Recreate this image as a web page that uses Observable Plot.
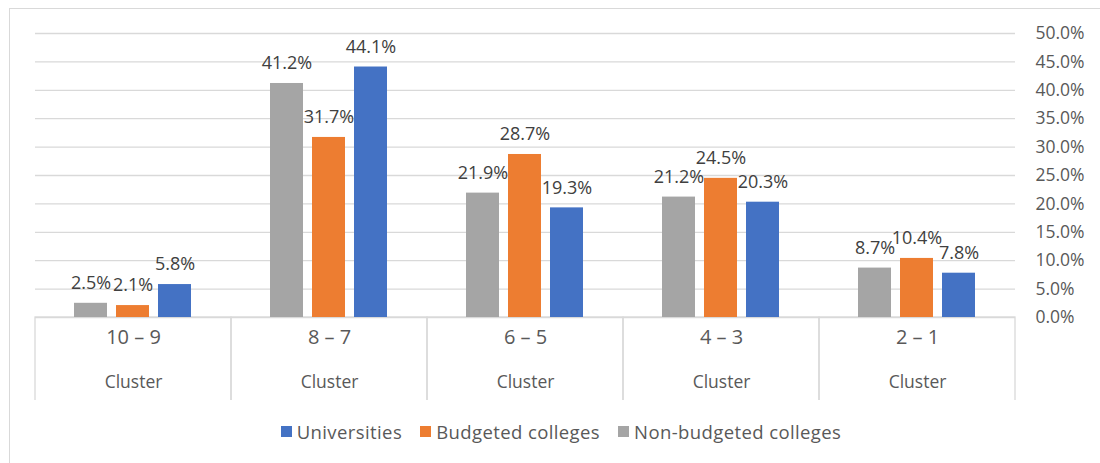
<!DOCTYPE html>
<html><head><meta charset="utf-8">
<script src="https://cdn.jsdelivr.net/npm/d3@7"></script>
<script src="https://cdn.jsdelivr.net/npm/@observablehq/plot@0.6"></script>
<style>
html,body{margin:0;padding:0;background:#fff;overflow:hidden;width:1100px;height:463px;font-family:"Open Sans",sans-serif}
#chart{position:relative}
#frame{position:absolute;left:9px;top:8px;width:1200px;height:600px;border-left:1px solid #d9d9d9;border-top:1px solid #d9d9d9;pointer-events:none}
#legend{display:flex;justify-content:center;gap:18px;padding-left:22px;margin-top:19px;font-size:18.5px;letter-spacing:0.4px;color:#595959;line-height:25px}
#legend .item{display:flex;align-items:center}
#legend .sw{width:11px;height:11px;margin-right:5px}
</style></head>
<body>
<div id="chart"></div>
<div id="legend"></div>
<div id="frame"></div>
<script>
const categories = ["10 – 9", "8 – 7", "6 – 5", "4 – 3", "2 – 1"];
const seriesOrder = ["Non-budgeted colleges", "Budgeted colleges", "Universities"];
const legendOrder = ["Universities", "Budgeted colleges", "Non-budgeted colleges"];
const seriesColors = ["#A5A5A5", "#ED7D31", "#4472C4"];
const nonBudgeted = [2.5, 41.2, 21.9, 21.2, 8.7];
const budgeted = [2.1, 31.7, 28.7, 24.5, 10.4];
const universities = [5.8, 44.1, 19.3, 20.3, 7.8];
const yTicks = [0, 5, 10, 15, 20, 25, 30, 35, 40, 45, 50];
const subLabel = "Cluster";

const valuesBySeries = {
  "Non-budgeted colleges": nonBudgeted,
  "Budgeted colleges": budgeted,
  "Universities": universities
};
const data = categories.flatMap((c, i) =>
  seriesOrder.map(s => ({cluster: c, series: s, value: valuesBySeries[s][i]}))
);

const plot = Plot.plot({
  width: 1100, height: 400,
  marginLeft: 35, marginRight: 85, marginTop: 33, marginBottom: 83,
  style: {fontFamily: "'Open Sans', sans-serif", fontSize: "17.5px", overflow: "hidden", background: "white", color: "#595959"},
  fx: {domain: categories, padding: 0, axis: null},
  x: {domain: seriesOrder, paddingInner: 0.21, paddingOuter: 0.885, axis: null},
  y: {domain: [0, 50], axis: "right", ticks: yTicks, tickFormat: d => d.toFixed(1) + "%", tickSize: 0, tickPadding: 20, label: null},
  color: {domain: seriesOrder, range: seriesColors},
  marks: [
    Plot.ruleY(yTicks, {stroke: "#d9d9d9", strokeWidth: 1.3}),
    Plot.rect(categories, {fx: d => d, y1: 0, y2: -20, stroke: "#d9d9d9", fill: "none", strokeWidth: 1.3}),
    Plot.barY(data, {fx: "cluster", x: "series", y: "value", fill: "series"}),
    Plot.text(data, {fx: "cluster", x: "series", y: "value", text: d => d.value.toFixed(1) + "%", dy: -20, fill: "#404040", fontSize: 18}),
    Plot.text(categories, {fx: d => d, text: d => d, frameAnchor: "bottom", dy: 26, fontSize: 20, fill: "#595959"}),
    Plot.text(categories, {fx: d => d, text: () => subLabel, frameAnchor: "bottom", dy: 70, fontSize: 17.5, fill: "#595959"})
  ]
});
document.getElementById("chart").appendChild(plot);

const legend = document.getElementById("legend");
legendOrder.forEach(s => {
  const item = document.createElement("div");
  item.className = "item";
  const sw = document.createElement("span");
  sw.className = "sw";
  sw.style.background = seriesColors[seriesOrder.indexOf(s)];
  const label = document.createElement("span");
  label.textContent = s;
  item.appendChild(sw);
  item.appendChild(label);
  legend.appendChild(item);
});
</script>
</body></html>
